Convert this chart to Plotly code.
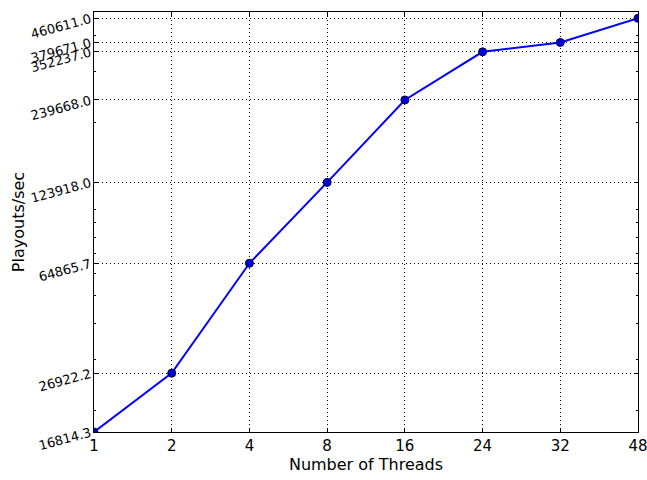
import numpy as np
import plotly.graph_objects as go

threads = ["1", "2", "4", "8", "16", "24", "32", "48"]
playouts = [16814.3, 26922.2, 64865.7, 123918.0, 239668.0, 352237.0, 379671.0, 460611.0]
ytick_labels = ["16814.3", "26922.2", "64865.7", "123918.0", "239668.0", "352237.0", "379671.0", "460611.0"]

xpos = list(range(len(threads)))
minor_vals = [m * 10 ** e for e in (4, 5) for m in range(1, 10)]

fig = go.Figure()
fig.add_trace(go.Scatter(
    x=xpos, y=playouts, mode="lines+markers",
    line=dict(color="#0000ff", width=2),
    marker=dict(symbol="circle", size=8, color="#0000dd",
                line=dict(color="#000033", width=1)),
    cliponaxis=True, showlegend=False,
))

ymin = np.log10(playouts[0])
ymax = 5.6852

fig.update_layout(
    width=647, height=480,
    margin=dict(l=94, r=9, t=12, b=48),
    paper_bgcolor="white", plot_bgcolor="white",
    font=dict(family="DejaVu Sans", color="black"),
)
fig.update_xaxes(
    range=[0, len(threads) - 1 + 1e-9], automargin=False,
    tickmode="array", tickvals=xpos, ticktext=threads,
    tickfont=dict(size=15), ticklabeloverflow="allow",
    title=dict(text="Number of Threads", font=dict(size=16), standoff=4),
    showline=True, linecolor="black", linewidth=1, mirror="allticks",
    ticks="inside", ticklen=4, tickcolor="black",
    showgrid=True, gridcolor="black", gridwidth=1, griddash="1px,3px",
    zeroline=False,
)
fig.update_yaxes(
    type="log", range=[ymin, ymax], automargin=False,
    tickmode="array", tickvals=playouts, ticktext=ytick_labels,
    tickfont=dict(size=13), tickangle=-15, ticklabeloverflow="allow",
    title=dict(text="Playouts/sec", font=dict(size=16), standoff=0),
    showline=True, linecolor="black", linewidth=1, mirror="allticks",
    ticks="inside", ticklen=4, tickcolor="black",
    showgrid=True, gridcolor="black", gridwidth=1, griddash="1px,3px",
    zeroline=False,
    minor=dict(tickmode="array", tickvals=minor_vals, ticks="inside",
               ticklen=2, tickcolor="black", showgrid=False),
)

fig.write_html("out.html")
